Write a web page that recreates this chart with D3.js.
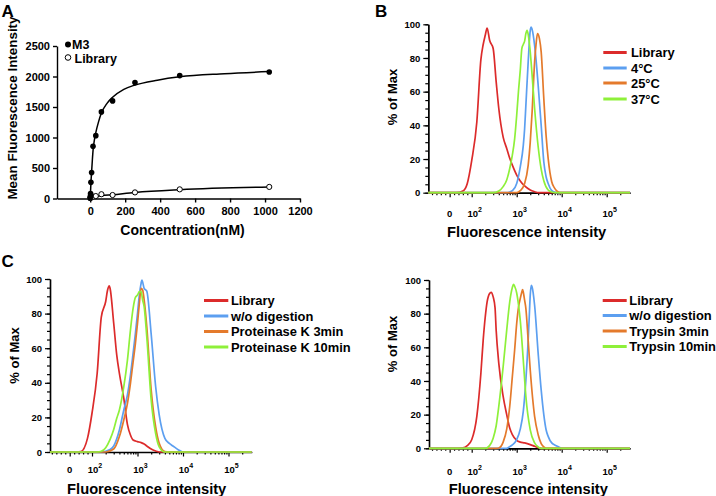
<!DOCTYPE html>
<html><head><meta charset="utf-8">
<script src="https://cdn.jsdelivr.net/npm/d3@7"></script>
<style>
body{margin:0;background:#fff;}
svg text{font-family:"Liberation Sans",Arial,sans-serif;font-weight:bold;fill:#000;}
</style></head><body>
<svg id="c" width="716" height="496"></svg>
<script>
// ---------- Panel A data ----------
const concM3 = [0,1,2,4,8,16,32,64,128,256,512,1024];
const mfiM3  = [10,40,80,265,425,855,1030,1420,1600,1900,2015,2075];
const concLib = [0,4,8,16,32,64,128,256,512,1024];
const mfiLib  = [5,15,20,30,40,70,57,100,150,190];
const fitM3Conc = [0,4,8,12,16,24,32,48,64,96,128,192,256,384,512,768,1024];
const fitM3Mfi  = [0,250,440,620,780,960,1080,1260,1400,1560,1660,1790,1860,1940,1995,2045,2080];
const fitLibConc = [0,32,64,128,256,512,1024];
const fitLibMfi  = [5,30,45,62,100,145,188];
const xTicksA = [0,200,400,600,800,1000,1200];
const yTicksA = [0,500,1000,1500,2000,2500];

// ---------- Histogram data: [fluorescence, % of Max] ----------
const bLibrary = [[30,0],[60,1],[80,5.5],[100,19],[130,42],[160,79],[180,88],[200,93.5],[220,97.8],[250,90.5],[300,85.6],[350,65.8],[400,50],[500,33],[600,26.3],[700,20.4],[800,16.4],[1000,10.5],[1200,7],[1500,4],[2000,1.6],[2500,0.6],[3000,0]];
const b4C  = [[600,0],[700,0.4],[800,1.2],[1000,5.5],[1200,15.4],[1400,28],[1500,38],[1600,52],[1800,77.7],[2000,96.4],[2100,98.4],[2200,97],[2500,87.5],[3000,63.8],[3500,40],[4000,18.4],[4500,9.5],[5000,5.5],[6000,1.2],[7000,0.2],[8000,0]];
const b25C = [[1000,0],[1200,1.2],[1500,5.5],[1800,16.4],[2000,30],[2200,48],[2500,77.7],[2700,88.5],[2900,94.5],[3200,91.5],[3500,83.6],[4000,56],[4500,34],[5000,20.4],[6000,6.5],[7000,2.6],[8000,0.8],[9000,0]];
const b37C = [[300,0],[400,1],[500,3.6],[600,7.5],[700,14.4],[800,22.3],[900,32],[1000,46],[1100,61],[1200,72.7],[1300,85.6],[1400,88],[1500,90],[1600,94.5],[1700,96.4],[1800,94],[2000,83.6],[2200,69.8],[2500,50],[3000,27.3],[3500,14],[4000,7.1],[5000,1.6],[6000,0.4],[7000,0]];

const pLibrary = [[30,0],[50,0.2],[80,8],[100,22.4],[130,45.5],[160,78],[200,87],[220,93.6],[240,96],[250,94.5],[300,74.4],[350,56],[400,45.5],[500,31],[600,16],[700,9.8],[800,6.9],[1000,6],[1200,5.4],[1400,4.6],[1600,3.5],[2000,1.7],[2500,0.6],[3000,0]];
const pNoDig = [[160,0],[250,1.5],[300,3.5],[400,12.7],[500,24.3],[600,33],[700,44.5],[800,57],[900,68.6],[1000,80],[1100,90.8],[1200,97.5],[1250,99.4],[1400,94.6],[1600,93],[2000,68],[2500,38],[3000,21.5],[4000,7.9],[5000,5],[6000,3.5],[8000,1.2],[10000,0]];
const pK3  = [[200,0],[300,1.7],[400,8.9],[500,18.5],[600,28],[700,39.7],[800,52],[900,62.8],[1000,74.4],[1100,86],[1200,94.6],[1300,93.6],[1400,87.9],[1600,72.4],[2000,35.8],[2500,14.6],[3000,5],[4000,0.2],[5000,0]];
const pK10 = [[130,0],[160,0.4],[200,2.5],[250,7.3],[300,13],[350,19.5],[400,24.3],[500,37.8],[600,53],[700,70.5],[800,83],[900,89.4],[1000,90.7],[1100,92.7],[1200,92.7],[1300,87.7],[1400,84],[1600,66.5],[2000,30],[2500,10.8],[3000,3],[4000,0]];

const tLibrary = [[40,0],[60,0.2],[80,1.6],[100,5.1],[130,19],[160,44.6],[180,64.3],[200,78],[220,87],[250,92],[270,92.7],[300,90],[330,83.6],[350,70],[400,50.5],[500,30.8],[600,20],[700,12],[800,8.1],[1000,4.7],[1200,3.7],[1500,3.2],[2000,2.2],[2500,1.2],[3000,0.4],[3500,0]];
const tNoDig = [[600,0],[700,1],[800,2],[1000,5.1],[1200,11.4],[1400,21.9],[1600,40.6],[1800,64.3],[1900,78],[2000,91],[2100,96.8],[2200,95.9],[2500,85],[3000,56.4],[3500,34.7],[4000,20],[4500,11],[5000,7.1],[6000,3.2],[7000,2],[8000,1.2],[10000,0]];
const tTryp3  = [[350,0],[400,0.2],[500,3.7],[600,11.4],[700,24.9],[800,42.6],[900,58.4],[1000,74.2],[1100,84],[1200,89],[1300,92.9],[1350,94.3],[1400,92.9],[1500,88],[1600,83],[1800,64],[2000,46.5],[2500,19],[3000,8.1],[3500,2.8],[4000,0.8],[4500,0]];
const tTryp10 = [[200,0],[250,1.6],[300,6],[350,13.4],[400,24.9],[500,48.5],[600,70.2],[700,87],[800,95.5],[850,97.4],[900,96.3],[1000,92.3],[1100,85],[1200,76],[1400,52.5],[1600,30.8],[2000,11],[2500,3.2],[3000,0.8],[3500,0]];

const legendB = ["Library","4°C","25°C","37°C"];
const legendCL = ["Library","w/o digestion","Proteinase K 3min","Proteinase K 10min"];
const legendCR = ["Library","w/o digestion","Trypsin 3min","Trypsin 10min"];
const yTicksHist = [0,20,40,60,80,100];
const yMinorHist = d3.range(0,101,5);
const xMajorHist = [0,100,1000,10000,100000];
const xMinorHist = [-80,-60,-40,-20,20,40,60,80,200,300,400,500,600,700,800,900,2000,3000,4000,5000,6000,7000,8000,9000,20000,30000,40000,50000,60000,70000,80000,90000,200000];
const colors = ["#dc2b2b","#5c9ff0","#e47a2c","#8ef03a"];

const svg = d3.select("#c");
svg.append("rect").attr("width",716).attr("height",496).attr("fill","#fff");

// ---------- Panel A ----------
(function(){
  const sx = d3.scaleLinear().domain([-190,1200]).range([57,300]);
  const sy = d3.scaleLinear().domain([0,2500]).range([198.5,46]);
  const g = svg.append("g");
  const ax = g.append("g").attr("transform","translate(0,198.5)")
    .call(d3.axisBottom(sx).tickValues(xTicksA).tickFormat(d3.format("d")).tickSize(4).tickPadding(5).tickSizeOuter(0));
  const ay = g.append("g").attr("transform","translate(57,0)")
    .call(d3.axisLeft(sy).tickValues(yTicksA).tickFormat(d3.format("d")).tickSize(4).tickPadding(3).tickSizeOuter(0));
  [ax,ay].forEach(a=>{
    a.selectAll("path,line").attr("stroke","#000").attr("stroke-width",1.4);
    a.selectAll("text").style("font-size","11px").attr("fill","#000");
  });
  const line = d3.line().x(d=>sx(d[0])).y(d=>sy(d[1])).curve(d3.curveMonotoneX);
  g.append("path").datum(fitM3Conc.map((c,i)=>[c,fitM3Mfi[i]])).attr("d",line)
    .attr("fill","none").attr("stroke","#000").attr("stroke-width",1.5);
  g.append("path").datum(fitLibConc.map((c,i)=>[c,fitLibMfi[i]])).attr("d",line)
    .attr("fill","none").attr("stroke","#000").attr("stroke-width",1.5);
  g.selectAll("circle.lib").data(concLib.map((c,i)=>[c,mfiLib[i]])).enter().append("circle")
    .attr("cx",d=>sx(d[0])).attr("cy",d=>sy(d[1])).attr("r",2.6)
    .attr("fill","#fff").attr("stroke","#000").attr("stroke-width",1);
  g.selectAll("circle.m3").data(concM3.map((c,i)=>[c,mfiM3[i]])).enter().append("circle")
    .attr("cx",d=>sx(d[0])).attr("cy",d=>sy(d[1])).attr("r",2.8).attr("fill","#000");
  // legend
  g.append("circle").attr("cx",68).attr("cy",44.5).attr("r",3).attr("fill","#000");
  g.append("text").attr("x",72).attr("y",48.5).style("font-size","12.5px").text("M3");
  g.append("circle").attr("cx",68).attr("cy",57.5).attr("r",2.8).attr("fill","#fff").attr("stroke","#000");
  g.append("text").attr("x",74.5).attr("y",63).style("font-size","12.5px").text("Library");
  // titles
  g.append("text").attr("x",182.5).attr("y",235).attr("text-anchor","middle").style("font-size","14px").text("Concentration(nM)");
  g.append("text").attr("transform","translate(17,108) rotate(-90)").attr("text-anchor","middle").style("font-size","13.4px").text("Mean Fluorescence Intensity");
  g.append("text").attr("x",1.5).attr("y",17).style("font-size","17px").text("A");
})();

// ---------- Histogram panels ----------
const T = v => v >= 100 ? Math.log10(v) : 2 - (100 - v) * 0.0049;

function histPanel(L, series, names){
  const g = svg.append("g");
  const sx = d3.scaleLinear()
    .domain([3-(L.p1000-L.left)/L.dec, 3+(L.right-L.p1000)/L.dec])
    .range([L.left, L.right]);
  const sy = d3.scaleLinear().domain([0,100]).range([L.y0, L.y100]);
  const ayMinor = g.append("g").attr("transform",`translate(${L.left},0)`)
    .call(d3.axisLeft(sy).tickValues(yMinorHist).tickSize(3).tickFormat("").tickSizeOuter(0));
  const ay = g.append("g").attr("transform",`translate(${L.left},0)`)
    .call(d3.axisLeft(sy).tickValues(yTicksHist).tickSize(5).tickPadding(3).tickSizeOuter(0));
  const axMinor = g.append("g").attr("transform",`translate(0,${L.y0})`)
    .call(d3.axisBottom(sx).tickValues(xMinorHist.map(T)).tickSize(2.5).tickFormat("").tickSizeOuter(0));
  const ax = g.append("g").attr("transform",`translate(0,${L.y0})`)
    .call(d3.axisBottom(sx).tickValues(xMajorHist.map(T)).tickSize(4.5).tickFormat("").tickSizeOuter(0));
  [ayMinor,ay,axMinor,ax].forEach(a=>{
    a.selectAll("path,line").attr("stroke","#000").attr("stroke-width",1.2);
    a.selectAll("text").style("font-size","9.5px").attr("fill","#000");
  });
  ax.select("path.domain").attr("stroke-width",1.5);
  ay.select("path.domain").attr("stroke-width",1.5);
  xMajorHist.forEach(v=>{
    const t = g.append("text").attr("x",sx(T(v))).attr("y",L.labelY)
      .attr("text-anchor","middle").style("font-size","9.5px");
    if(v===0){ t.text("0"); }
    else {
      t.append("tspan").text("10");
      t.append("tspan").attr("dy",-5).style("font-size","7px").text(String(Math.round(Math.log10(v))));
      t.attr("dx",3);
    }
  });
  const line = d3.line().x(d=>sx(d[0])).y(d=>sy(d[1])).curve(d3.curveMonotoneX);
  const [t0,t1] = sx.domain();
  series.forEach((s,i)=>{
    const pts = [[t0,0], ...s.map(d=>[T(d[0]),d[1]]), [t1,0]];
    g.append("path").datum(pts).attr("d",line).attr("fill","none")
      .attr("stroke",colors[i]).attr("stroke-width",1.7).attr("stroke-linejoin","round");
  });
  names.forEach((n,i)=>{
    g.append("line").attr("x1",L.lx1).attr("x2",L.lx2).attr("y1",L.rows[i]).attr("y2",L.rows[i])
      .attr("stroke",colors[i]).attr("stroke-width",3);
    g.append("text").attr("x",L.tx).attr("y",L.rows[i]+4.5).style("font-size","12.9px").text(n);
  });
  g.append("text").attr("x",L.titleX).attr("y",L.titleY).attr("text-anchor","middle")
    .style("font-size","14.7px").text("Fluorescence intensity");
  g.append("text").attr("transform",`translate(${L.ytX},${L.ytY}) rotate(-90)`)
    .attr("text-anchor","middle").style("font-size","13px").text("% of Max");
}

histPanel({left:428.3,right:630,y0:192.7,y100:24.3,p1000:516.7,dec:45,labelY:217,
  lx1:603.3,lx2:626.7,tx:631,rows:[52.5,68,83,99],titleX:526.7,titleY:236.5,ytX:396.5,ytY:97},
  [bLibrary,b4C,b25C,b37C], legendB);
histPanel({left:50,right:251.7,y0:452,y100:279,p1000:137.5,dec:45.5,labelY:473,
  lx1:204,lx2:228.3,tx:231,rows:[300.5,316,331.5,347],titleX:146.7,titleY:494,ytX:18.5,ytY:355.5},
  [pLibrary,pNoDig,pK3,pK10], legendCL);
histPanel({left:429,right:630,y0:448.3,y100:280,p1000:516.7,dec:45,labelY:475,
  lx1:602.7,lx2:626.7,tx:629.3,rows:[300.5,315.5,331,346.5],titleX:528.3,titleY:493.5,ytX:396.5,ytY:344},
  [tLibrary,tNoDig,tTryp3,tTryp10], legendCR);

svg.append("text").attr("x",375).attr("y",17).style("font-size","17px").text("B");
svg.append("text").attr("x",1.5).attr("y",267).style("font-size","17px").text("C");
</script>
</body></html>
